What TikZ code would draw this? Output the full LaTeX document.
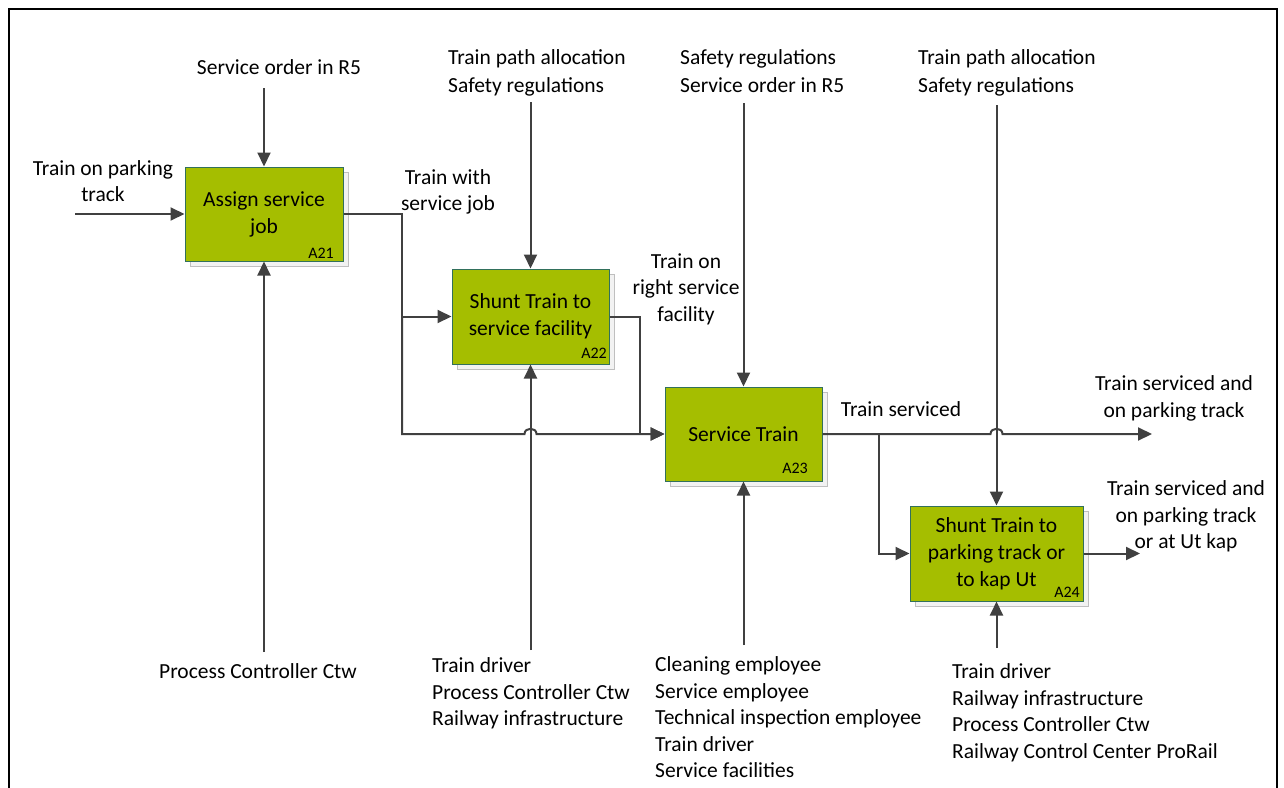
\documentclass[tikz,border=0pt]{standalone}
\usepackage{fontspec}
\setmainfont{Carlito}
\usetikzlibrary{arrows.meta,shadows}

\definecolor{linecol}{RGB}{64,64,64}
\definecolor{boxfill}{RGB}{165,190,0}
\definecolor{boxedge}{RGB}{50,112,92}

\tikzset{
  lbl/.style={inner sep=0pt, align=center, font=\fontsize{21.5}{26.5}\selectfont,
              execute at begin node=\strut, execute at end node=\strut},
  lblL/.style={lbl, align=left, anchor=north west},
  lblT/.style={lblL, font=\fontsize{21.5}{28}\selectfont},
  proc/.style={draw=boxedge, line width=1pt, fill=boxfill, align=center,
               inner sep=0pt, font=\fontsize{21.5}{27}\selectfont,
               drop shadow={shadow xshift=5pt, shadow yshift=-5pt, fill=gray!10,
                            draw=gray!50, line width=0.8pt, opacity=1}},
  idlbl/.style={inner sep=0pt, anchor=base east, font=\fontsize{16}{19}\selectfont},
  wire/.style={draw=linecol, line width=2pt},
  flow/.style={wire, -{Triangle[length=14pt,width=13pt]}},
}

\begin{document}
\begin{tikzpicture}[x=1pt, y=-1pt]
\useasboundingbox (0,0) rectangle (1284,787);

% frame (open at the bottom)
\draw[line width=2.5pt, black] (9,800) -- (9,9) -- (1277,9) -- (1277,800);

% activity boxes
\node[proc, minimum width=158pt, minimum height=94pt] (a21) at (264,214) {Assign service\\job};
\node[proc, minimum width=157pt, minimum height=95pt] (a22) at (530.5,316.5) {Shunt Train to\\service facility};
\node[proc, minimum width=157pt, minimum height=94pt] (a23) at (743.5,434) {Service Train};
\node[proc, minimum width=173pt, minimum height=95pt] (a24) at (996.5,553.5) {Shunt Train to\\parking track or\\to kap Ut};

% box numbers
\node[idlbl] (id21) at (334,258) {A21};
\node[idlbl] (id22) at (607,358) {A22};
\node[idlbl] (id23) at (808,473) {A23};
\node[idlbl] (id24) at (1080,597) {A24};

% free ends of the arrows
\coordinate (in21)   at (75,214);
\coordinate (ctl21)  at (264,88);
\coordinate (mech21) at (264,652);
\coordinate (ctl22)  at (530.5,102);
\coordinate (mech22) at (530.5,650);
\coordinate (ctl23)  at (743.5,103);
\coordinate (mech23) at (743.5,645);
\coordinate (ctl24)  at (996.5,105);
\coordinate (mech24) at (996.5,648);
\coordinate (out23)  at (1152,434);
\coordinate (out24)  at (1140,553.5);
\coordinate (j21)    at (402,214);
\coordinate (j22)    at (640,316.5);
\coordinate (br23)   at (879,434);

% labels
\node[lbl] (l-in)   at (103,185)   {Train on parking\\track};
\node[lbl] (l-c21)  at (279,69.5)  {Service order in R5};
\node[lbl] (l-m21)  at (258,673.5) {Process Controller Ctw};
\node[lbl] (l-o21)  at (448,194)   {Train with\\service job};
\node[lblT] (l-c22) at (448,49.4)  {Train path allocation\\Safety regulations};
\node[lblL] (l-m22) at (432,657.5) {Train driver\\Process Controller Ctw\\Railway infrastructure};
\node[lbl] (l-o22)  at (686,291.5) {Train on\\right service\\facility};
\node[lblT] (l-c23) at (680,49.4)  {Safety regulations\\Service order in R5};
\node[lblL] (l-m23) at (655,656.5) {Cleaning employee\\Service employee\\Technical inspection employee\\Train driver\\Service facilities};
\node[lbl] (l-o23)  at (901,411.5) {Train serviced};
\node[lbl] (l-out1) at (1174,400.5){Train serviced and\\on parking track};
\node[lblT] (l-c24) at (918,49.4)  {Train path allocation\\Safety regulations};
\node[lbl] (l-out2) at (1186,519)  {Train serviced and\\on parking track\\or at Ut kap};
\node[lblL] (l-m24) at (952,663.5) {Train driver\\Railway infrastructure\\Process Controller Ctw\\Railway Control Center ProRail};

% A21
\draw[flow] (in21) -- (a21.west);
\draw[flow] (ctl21) -- (a21.north);
\draw[flow] (mech21) -- (a21.south);
\draw[flow] (a21.east) -- (j21) |- (a22.west);
\draw[flow] (j21 |- a22.west) -- (402,434) -- (524.5,434)
  .. controls (524.5,427) and (536.5,427) .. (536.5,434) -- (a23.west);

% A22
\draw[flow] (ctl22) -- (a22.north);
\draw[flow] (mech22) -- (a22.south);
\draw[flow] (a22.east) -- (j22) |- (a23.west);

% A23
\draw[flow] (ctl23) -- (a23.north);
\draw[flow] (mech23) -- (a23.south);
\draw[flow] (a23.east) -- (990.5,434)
  .. controls (990.5,427) and (1002.5,427) .. (1002.5,434) -- (out23);
\draw[flow] (br23) |- (a24.west);

% A24
\draw[flow] (ctl24) -- (a24.north);
\draw[flow] (mech24) -- (a24.south);
\draw[flow] (a24.east) -- (out24);
\end{tikzpicture}
\end{document}
